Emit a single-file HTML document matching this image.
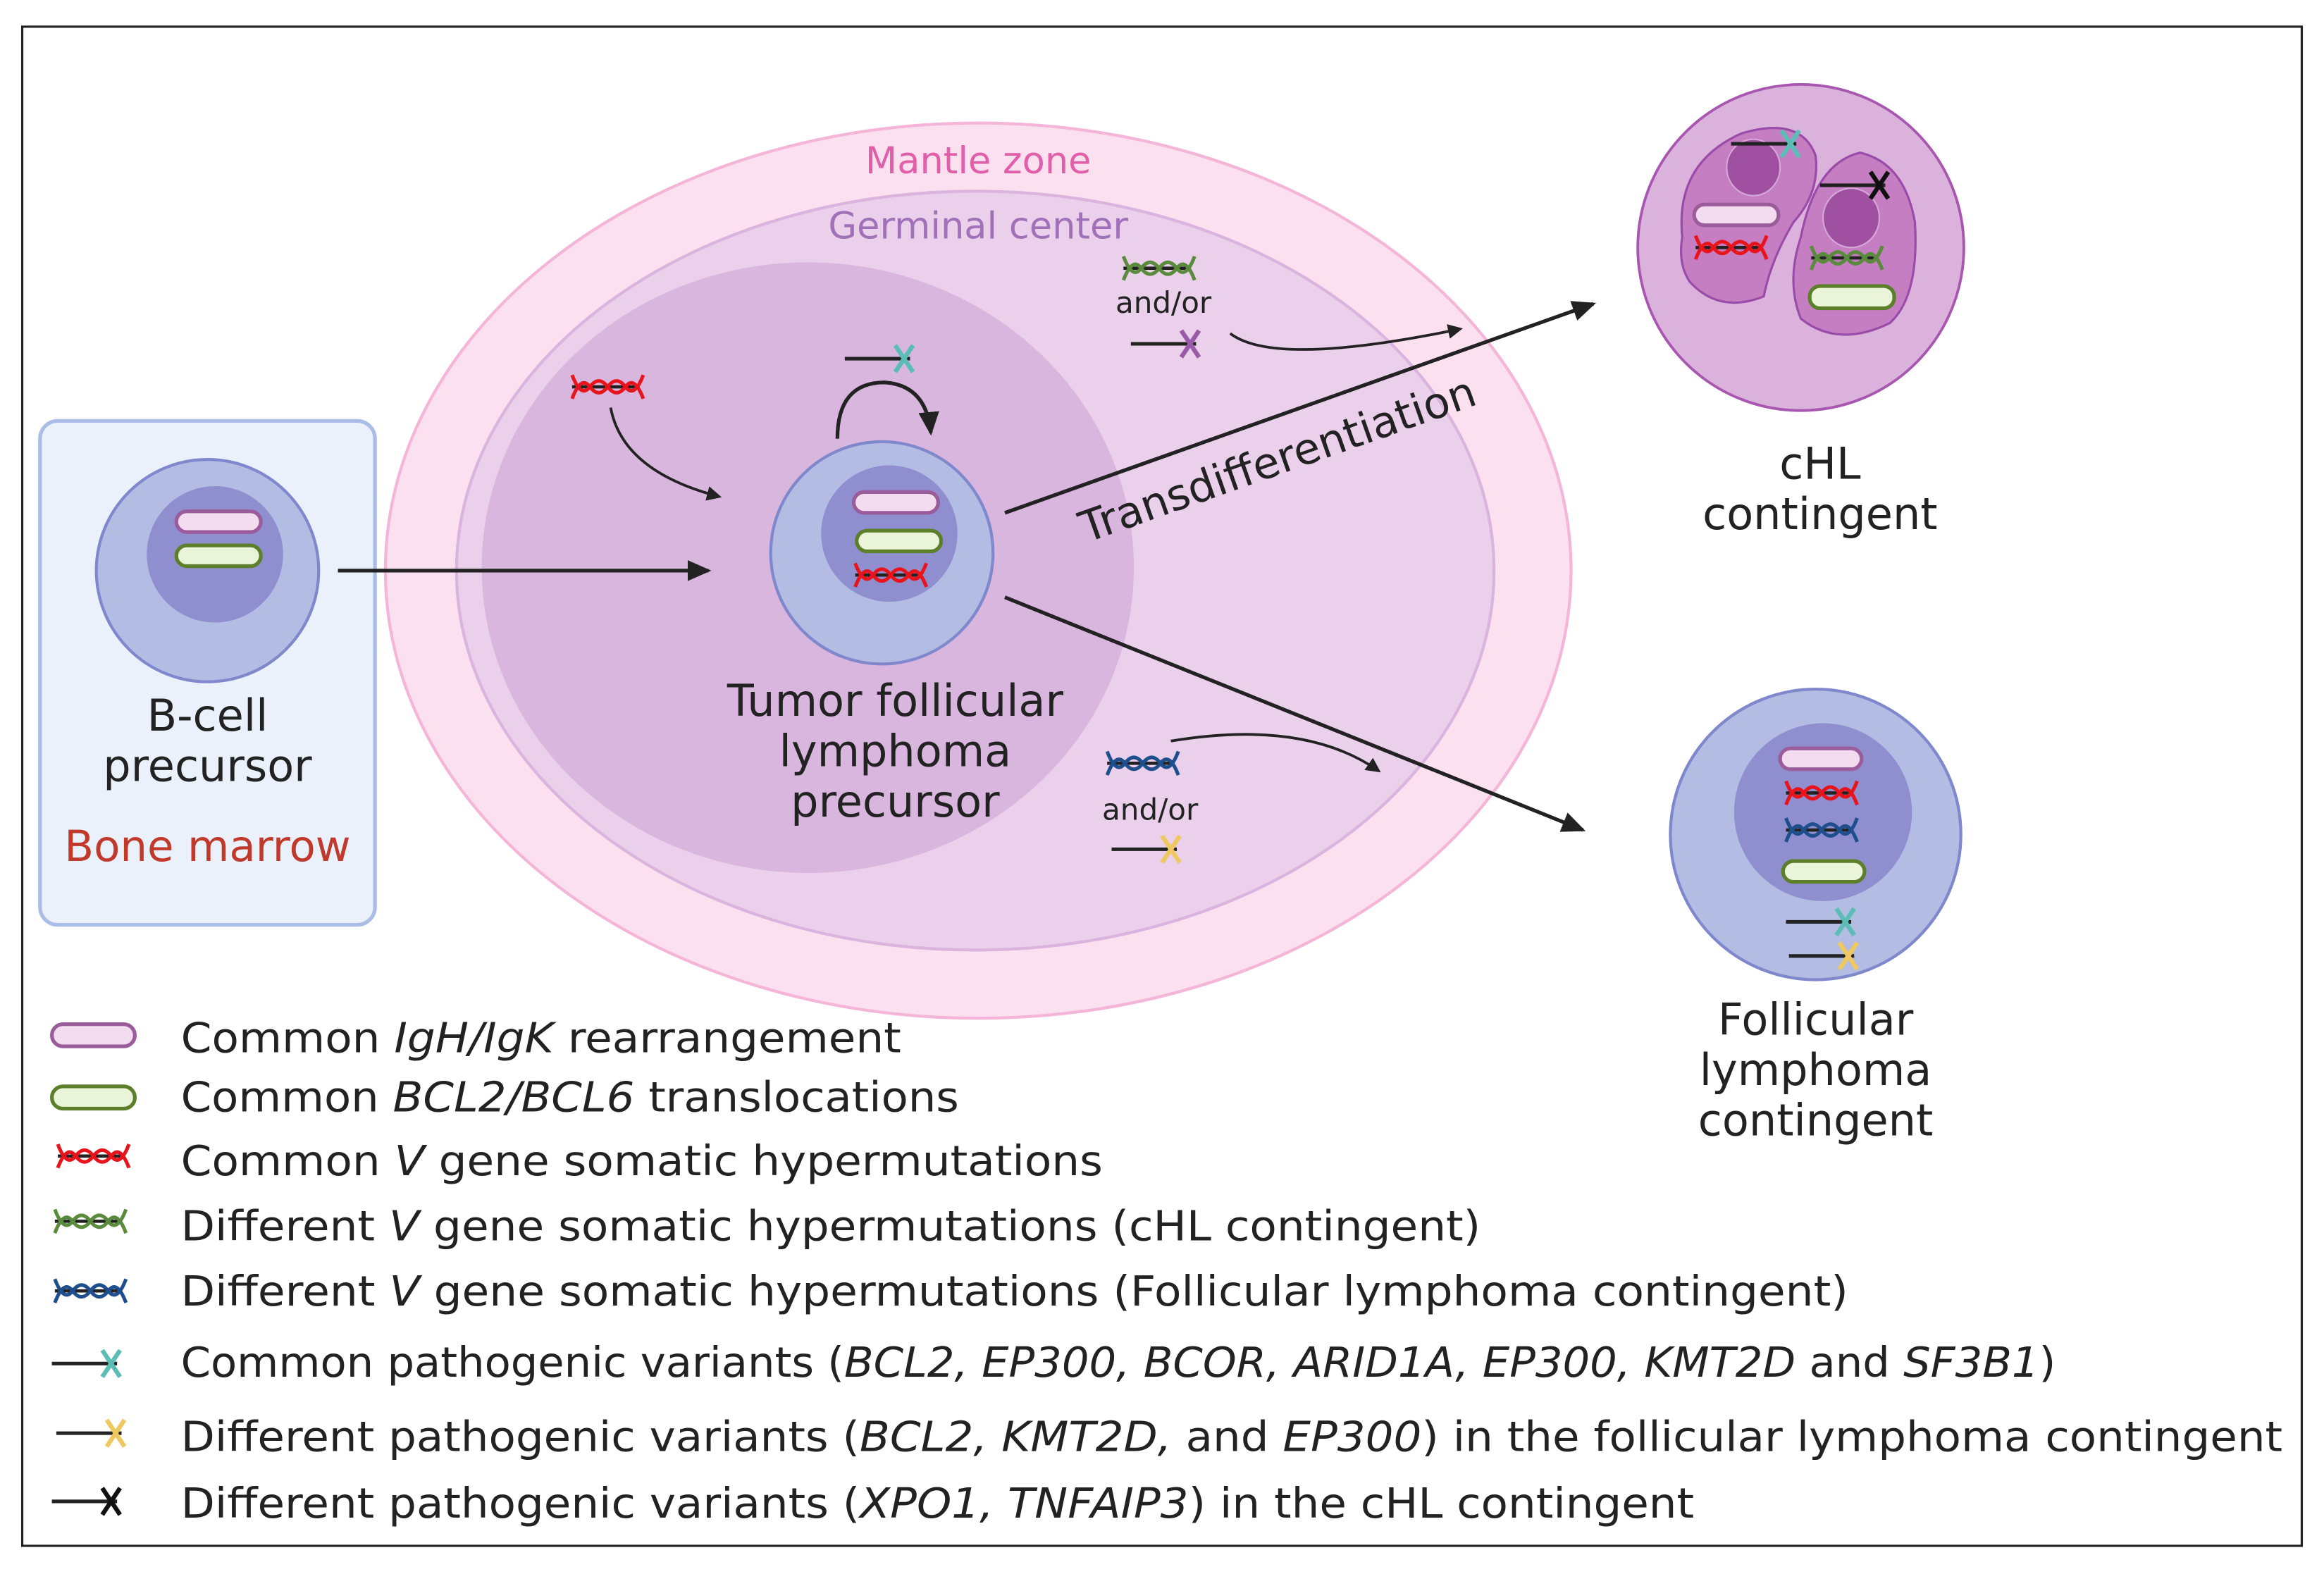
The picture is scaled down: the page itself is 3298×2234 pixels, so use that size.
<!DOCTYPE html>
<html><head><meta charset="utf-8"><style>
html,body{margin:0;padding:0;background:#fff;}
svg{display:block;}
text{font-family:"DejaVu Sans","Liberation Sans",sans-serif;}
</style></head><body>
<svg width="3298" height="2234" viewBox="0 0 1568 1062" preserveAspectRatio="none" xmlns="http://www.w3.org/2000/svg">
<defs>
<symbol id="mut" viewBox="0 0 52 20" overflow="visible">
<line x1="2" y1="10" x2="46" y2="10" stroke="#222" stroke-width="2.2"/>
<path d="M2,2 Q8,18 14,10 Q20,2 26,10 Q32,18 38,10 Q44,2 50,18" fill="none" stroke="currentColor" stroke-width="2.4"/>
<path d="M2,18 Q8,2 14,10 Q20,18 26,10 Q32,2 38,10 Q44,18 50,2" fill="none" stroke="currentColor" stroke-width="2.4"/>
</symbol>
<symbol id="var" viewBox="0 0 52 24" overflow="visible">
<line x1="0" y1="12" x2="44" y2="12" stroke="#222" stroke-width="2.4"/>
<path d="M34,3 L46,21 M46,3 L34,21" stroke="currentColor" stroke-width="3"/>
</symbol>
<marker id="ah" markerWidth="10" markerHeight="10" refX="8" refY="5" orient="auto" markerUnits="userSpaceOnUse" viewBox="0 0 10 10"><path d="M0,0 L10,5 L0,10 z" fill="#222"/></marker>
<marker id="ah2" markerWidth="16" markerHeight="14" refX="14" refY="7" orient="auto" markerUnits="userSpaceOnUse" viewBox="0 0 16 14"><path d="M0,0 L16,7 L0,14 z" fill="#222"/></marker>
</defs>
<rect x="15" y="18" width="1538" height="1025" fill="#fff" stroke="#222" stroke-width="1.5"/>

<rect x="27" y="284" width="226" height="340" rx="12" fill="#eaf1fb" stroke="#a9bde6" stroke-width="2.5"/>
<circle cx="140" cy="385" r="75" fill="#b3bde3" stroke="#7f88cc" stroke-width="2"/>
<circle cx="145" cy="374" r="46" fill="#8f8fd0"/>
<rect x="119" y="345" width="57" height="14" rx="7" fill="#f3dcef" stroke="#9a5c9a" stroke-width="2.5"/>
<rect x="119" y="368" width="57" height="14" rx="7" fill="#eaf4d8" stroke="#5c7f2a" stroke-width="2.5"/>
<text x="140" y="493" font-size="29.5" text-anchor="middle" fill="#222">B-cell</text>
<text x="140" y="527" font-size="29.5" text-anchor="middle" fill="#222">precursor</text>
<text x="140" y="581" font-size="29" text-anchor="middle" fill="#c0392b">Bone marrow</text>

<ellipse cx="660" cy="385" rx="400" ry="302" fill="#fbe0f0" stroke="#f5b5d8" stroke-width="2"/>
<ellipse cx="658" cy="385" rx="350" ry="256" fill="#ead0ea" stroke="#dab4de" stroke-width="2"/>
<ellipse cx="545" cy="383" rx="220" ry="206" fill="#d9b6de"/>
<text x="660" y="117" font-size="25" text-anchor="middle" fill="#e05fa8">Mantle zone</text>
<text x="660" y="161" font-size="25" text-anchor="middle" fill="#a070b8">Germinal center</text>

<circle cx="595" cy="373" r="75" fill="#b3bde3" stroke="#7f88cc" stroke-width="2"/>
<circle cx="600" cy="360" r="46" fill="#8f8fd0"/>
<rect x="576" y="332" width="57" height="14" rx="7" fill="#f3dcef" stroke="#9a5c9a" stroke-width="2.5"/>
<rect x="578" y="358" width="57" height="14" rx="7" fill="#eaf4d8" stroke="#5c7f2a" stroke-width="2.5"/>
<use href="#mut" x="575" y="378" width="52" height="20" style="color:#e8141c"/>
<text x="604" y="483" font-size="29.5" text-anchor="middle" fill="#222">Tumor follicular</text>
<text x="604" y="517" font-size="29.5" text-anchor="middle" fill="#222">lymphoma</text>
<text x="604" y="551" font-size="29.5" text-anchor="middle" fill="#222">precursor</text>

<line x1="228" y1="385" x2="478" y2="385" stroke="#222" stroke-width="2.5" marker-end="url(#ah2)"/>
<use href="#mut" x="384" y="251" width="52" height="20" style="color:#e8141c"/>
<path d="M412,275 Q420,318 485,335" fill="none" stroke="#222" stroke-width="1.8" marker-end="url(#ah)"/>
<path d="M565,296 Q565,258 597,258 Q625,260 628,292" fill="none" stroke="#222" stroke-width="2.5" marker-end="url(#ah2)"/>
<use href="#var" x="570" y="230" width="52" height="24" style="color:#5bbdb5"/>

<line x1="678" y1="346" x2="1075" y2="205" stroke="#222" stroke-width="2.5" marker-end="url(#ah2)"/>
<text x="862" y="320" font-size="29" text-anchor="middle" fill="#222" transform="rotate(-19.5 862 310)">Transdifferentiation</text>
<line x1="678" y1="403" x2="1068" y2="560" stroke="#222" stroke-width="2.5" marker-end="url(#ah2)"/>

<use href="#mut" x="756" y="171" width="52" height="20" style="color:#5a8a3c"/>
<text x="785" y="211" font-size="20" text-anchor="middle" fill="#222">and/or</text>
<use href="#var" x="763" y="220" width="52" height="24" style="color:#9a5aa8"/>
<path d="M830,225 Q860,248 985,222" fill="none" stroke="#222" stroke-width="1.8" marker-end="url(#ah)"/>

<use href="#mut" x="745" y="505" width="52" height="20" style="color:#1f4e8c"/>
<path d="M790,500 Q880,485 930,520" fill="none" stroke="#222" stroke-width="1.8" marker-end="url(#ah)"/>
<text x="776" y="553" font-size="20" text-anchor="middle" fill="#222">and/or</text>
<use href="#var" x="750" y="561" width="52" height="24" style="color:#f0c860"/>

<circle cx="1215" cy="167" r="110" fill="#dab2dc" stroke="#a856b0" stroke-width="1.8"/>
<path d="M1135,160 Q1130,110 1175,90 Q1215,78 1225,105 Q1228,130 1210,150 Q1195,175 1190,200 Q1160,212 1140,190 Q1132,178 1135,160 Z" fill="#c67ec2" stroke="#9a4aa8" stroke-width="1.5"/>
<path d="M1215,160 Q1225,110 1255,103 Q1285,110 1292,150 Q1295,200 1275,218 Q1240,235 1215,215 Q1205,190 1215,160 Z" fill="#c67ec2" stroke="#9a4aa8" stroke-width="1.5"/>
<ellipse cx="1183" cy="113" rx="18" ry="19" fill="#a050a0" stroke="#d6a8d8" stroke-width="1"/>
<ellipse cx="1249" cy="147" rx="19" ry="20" fill="#a050a0" stroke="#d6a8d8" stroke-width="1"/>
<use href="#var" x="1168" y="85" width="52" height="24" style="color:#5bbdb5"/>
<use href="#var" x="1228" y="113" width="52" height="24" style="color:#111"/>
<rect x="1143" y="138" width="57" height="14" rx="7" fill="#f3dcef" stroke="#9a5c9a" stroke-width="2.5"/>
<use href="#mut" x="1142" y="157" width="52" height="20" style="color:#e8141c"/>
<use href="#mut" x="1220" y="164" width="52" height="20" style="color:#5a8a3c"/>
<rect x="1221" y="193" width="57" height="15" rx="7" fill="#eaf4d8" stroke="#5c7f2a" stroke-width="2.5"/>
<text x="1228" y="323" font-size="29.5" text-anchor="middle" fill="#222">cHL</text>
<text x="1228" y="357" font-size="29.5" text-anchor="middle" fill="#222">contingent</text>

<circle cx="1225" cy="563" r="98" fill="#b3bde3" stroke="#7f88cc" stroke-width="2"/>
<circle cx="1230" cy="548" r="60" fill="#8f8fd0"/>
<rect x="1201" y="505" width="55" height="14" rx="7" fill="#f3dcef" stroke="#9a5c9a" stroke-width="2.5"/>
<use href="#mut" x="1203" y="525" width="52" height="20" style="color:#e8141c"/>
<use href="#mut" x="1203" y="550" width="52" height="20" style="color:#1f4e8c"/>
<rect x="1203" y="581" width="55" height="14" rx="7" fill="#eaf4d8" stroke="#5c7f2a" stroke-width="2.5"/>
<use href="#var" x="1205" y="610" width="52" height="24" style="color:#5bbdb5"/>
<use href="#var" x="1207" y="633" width="52" height="24" style="color:#f0c860"/>
<text x="1225" y="698" font-size="29.5" text-anchor="middle" fill="#222">Follicular</text>
<text x="1225" y="732" font-size="29.5" text-anchor="middle" fill="#222">lymphoma</text>
<text x="1225" y="766" font-size="29.5" text-anchor="middle" fill="#222">contingent</text>

<rect x="35" y="691" width="56" height="15" rx="7.5" fill="#f3dcef" stroke="#9a5c9a" stroke-width="2.5"/>
<rect x="35" y="733" width="56" height="15" rx="7.5" fill="#eaf4d8" stroke="#5c7f2a" stroke-width="2.5"/>
<use href="#mut" x="37" y="770" width="52" height="20" style="color:#e8141c"/>
<use href="#mut" x="35" y="814" width="52" height="20" style="color:#5a8a3c"/>
<use href="#mut" x="35" y="861" width="52" height="20" style="color:#1f4e8c"/>
<use href="#var" x="35" y="908" width="52" height="24" style="color:#5bbdb5"/>
<use href="#var" x="38" y="955" width="52" height="24" style="color:#f0c860"/>
<use href="#var" x="35" y="1001" width="52" height="24" style="color:#111"/>
<g font-size="28" fill="#222">
<text x="122" y="710" textLength="486" lengthAdjust="spacingAndGlyphs">Common <tspan font-style="italic">IgH/IgK</tspan> rearrangement</text>
<text x="122" y="750" textLength="525" lengthAdjust="spacingAndGlyphs">Common <tspan font-style="italic">BCL2/BCL6</tspan> translocations</text>
<text x="122" y="793" textLength="622" lengthAdjust="spacingAndGlyphs">Common <tspan font-style="italic">V</tspan> gene somatic hypermutations</text>
<text x="122" y="837" textLength="877" lengthAdjust="spacingAndGlyphs">Different <tspan font-style="italic">V</tspan> gene somatic hypermutations (cHL contingent)</text>
<text x="122" y="881" textLength="1125" lengthAdjust="spacingAndGlyphs">Different <tspan font-style="italic">V</tspan> gene somatic hypermutations (Follicular lymphoma contingent)</text>
<text x="122" y="929" textLength="1265" lengthAdjust="spacingAndGlyphs">Common pathogenic variants (<tspan font-style="italic">BCL2, EP300, BCOR, ARID1A, EP300, KMT2D</tspan> and <tspan font-style="italic">SF3B1</tspan>)</text>
<text x="122" y="979" textLength="1418" lengthAdjust="spacingAndGlyphs">Different pathogenic variants (<tspan font-style="italic">BCL2, KMT2D,</tspan> and <tspan font-style="italic">EP300</tspan>) in the follicular lymphoma contingent</text>
<text x="122" y="1024" textLength="1021" lengthAdjust="spacingAndGlyphs">Different pathogenic variants (<tspan font-style="italic">XPO1, TNFAIP3</tspan>) in the cHL contingent</text>
</g>
</svg>
</body></html>
